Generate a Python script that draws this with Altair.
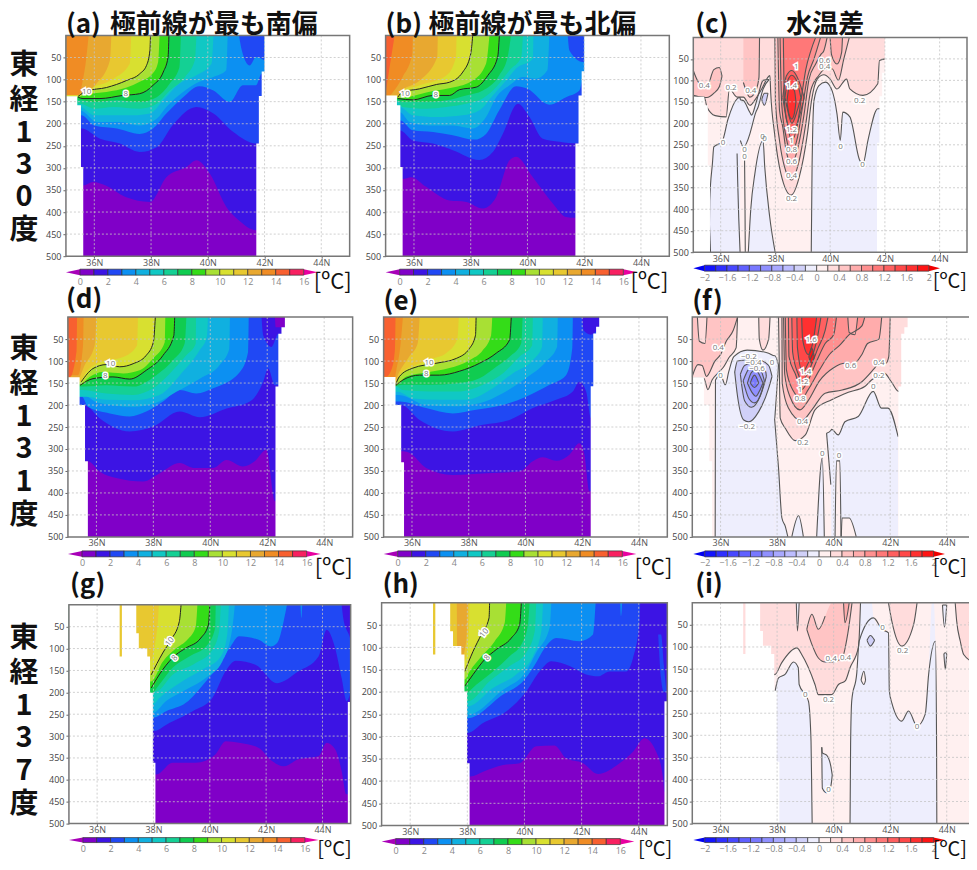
import altair as alt
import pandas as pd

# ---------- colour tables ----------
T_COLORS = ["#8000c8", "#3c14e4", "#2048f4", "#0c90f2", "#10b0e0", "#10c8c4", "#14d094", "#10cc50",
            "#34dc18", "#a8e034", "#d8e030", "#e8c830", "#e8a830", "#f08c24", "#f86030", "#f82060"]
T_LOW, T_HIGH = "#a800b8", "#e800a0"
D_EDGES = [-2.0, -1.8, -1.6, -1.4, -1.2, -1.0, -0.8, -0.6, -0.4, -0.2, 0.0, 0.2, 0.4, 0.6, 0.8, 1.0, 1.2, 1.4, 1.6, 1.8]
D_COLORS = ["#1414ff", "#3030ff", "#4848ff", "#6060ff", "#7878ff", "#9090ff", "#a8a8ff", "#bcbcff", "#d0d0f8", "#eeeefd",
            "#fff0f0", "#ffdcdc", "#ffc4c4", "#ffacac", "#ff9090", "#ff7878", "#ff6060", "#ff4848", "#ff3030", "#ff1414"]

# ---------- isotherm depths: level -> (latitude, depth) ----------
A_T = {
 1: [(35.6,340),(35.96,332),(36.4,340),(37.1,366),(37.96,377),(38.54,321),(39.25,298),(39.6,283),(40.07,313),(40.66,389),(41.1,419),(41.7,441)],
 2: [(35.55,211),(36.2,234),(36.9,245),(37.6,264),(38.2,253),(38.8,200),(39.6,162),(40.2,177),(40.9,219),(41.7,245)],
 3: [(35.55,181),(36,204),(36.8,211),(37.6,223),(38.07,211),(38.54,177),(39.13,140),(39.7,115),(40.2,125),(40.77,151),(41.24,113),(41.7,113),(41.9,87)],
 4: [(35.5,170),(36.1,196),(36.9,196),(37.6,204),(38.2,189),(38.54,162),(39.13,128),(39.7,105),(40.2,94),(40.65,79),(40.7,0)],
 5: [(35.5,162),(36,181),(36.55,181),(37.37,181),(37.96,177),(38.43,147),(39,109),(39.6,90),(40.13,64),(40.2,0)],
 6: [(35.5,155),(36,166),(36.67,162),(37.6,166),(38.2,155),(38.66,125),(39.2,94),(39.54,57),(39.6,0)],
 7: [(35.5,147),(36,151),(36.8,147),(37.6,151),(38.2,140),(38.66,109),(39,72),(39.05,0)],
 8: [(35.43,140),(35.6,143),(36.2,143),(37,136),(37.6,132),(38.07,113),(38.43,83),(38.6,49),(38.63,0)],
 9: [(35.43,139),(35.73,133),(36.43,128),(37.14,118),(37.6,105),(38.07,85),(38.25,60),(38.3,0)],
 10: [(35.43,138),(35.73,126),(36.43,118),(37.14,102),(37.6,87),(37.84,68),(37.96,34),(37.98,0)],
 11: [(35.43,136),(35.73,123),(36.67,98),(37.25,64),(37.3,0)],
 12: [(35.5,132),(36.08,109),(36.55,57),(36.6,0)],
 13: [(35.45,135),(35.6,100),(35.7,60),(35.8,0)],
}
A_PATCH = [(2, [(41.1,0,0),(41.2,0,34),(41.48,0,68),(41.7,0,49),(42,0,57)])]
A_LEFT = [(35,138),(35.4,158),(35.53,298),(35.61,500)]
A_RIGHT = [(41.71,245),(41.8,137),(41.9,82),(42,0),(45,0)]
A_LABELS = [(35.73,129,"10",0),(37.11,132,"8",0)]

B_T = {
 1: [(35.6,325),(35.9,321),(36.43,343),(37.25,374),(37.84,377),(38.43,392),(38.9,366),(39.37,283),(39.6,275),(40.19,321),(40.9,381),(41.36,411),(41.7,413)],
 2: [(35.5,215),(35.96,238),(36.67,245),(37.37,260),(38.3,282),(38.78,264),(39.13,223),(39.66,155),(40.07,185),(40.54,234),(41.13,241),(41.77,245)],
 3: [(35.5,192),(35.96,215),(36.67,219),(37.37,226),(38.13,236),(38.54,223),(39,170),(39.6,115),(40,121),(40.77,157),(41.36,140),(41.83,125),(41.95,102)],
 4: [(35.5,174),(35.85,196),(36.55,204),(37.37,204),(38.07,211),(38.54,185),(38.9,140),(39.37,113),(39.84,94),(40.3,98),(40.7,79),(40.77,0)],
 5: [(35.5,162),(35.96,181),(36.8,185),(37.72,181),(38.3,170),(38.78,136),(39.25,102),(39.6,75),(40.19,53),(40.21,0)],
 6: [(35.43,150),(35.6,162),(36.43,166),(37.14,162),(37.84,155),(38.49,140),(38.9,117),(39.37,79),(39.78,49),(39.84,0)],
 7: [(35.43,147),(35.6,151),(36.43,151),(37.14,147),(37.84,136),(38.43,125),(39,91),(39.3,49),(39.42,0)],
 8: [(35.43,143),(35.96,146),(36.67,136),(37.25,136),(37.6,123),(38.2,117),(38.6,91),(38.95,49),(39.01,0)],
 9: [(35.43,142),(35.73,140),(36.67,126),(37.37,118),(38.07,102),(38.54,64),(38.66,0)],
 10: [(35.43,140),(35.6,128),(36.2,121),(36.8,111),(37.25,106),(37.72,83),(38,42),(38.07,0)],
 11: [(35.43,138),(35.6,126),(36.2,113),(37.14,91),(37.48,49),(37.5,0)],
 12: [(35.38,136),(35.6,123),(36.2,102),(36.82,49),(36.84,0)],
 13: [(35.14,136),(35.3,125),(35.6,94),(35.94,42),(35.96,0)],
 14: [(35,132),(35.14,72),(35.32,0)],
}
B_PATCH = [(2, [(41.42,0,0),(41.48,0,34),(41.95,0,60),(42,0,60)])]
B_LEFT = [(35,136),(35.4,158),(35.52,298),(35.6,500)]
B_RIGHT = [(41.69,245),(41.8,136),(41.91,81),(42,0),(45,0)]
B_LABELS = [(35.69,132,"10",0),(36.77,134,"8",0)]

D_T = {
 1: [(35.7,328),(36.11,351),(36.7,366),(37.64,374),(38.22,355),(38.93,332),(39.4,343),(40.1,343),(40.57,325),(41.15,340),(41.56,328),(41.97,302),(42.27,419)],
 2: [(35.59,200),(36.11,230),(37.17,260),(38,249),(38.93,215),(39.63,228),(40.57,208),(41.39,192),(41.86,147),(42.03,117),(42.27,155)],
 3: [(35.5,181),(35.7,204),(36.47,219),(37.17,226),(37.75,215),(38.34,192),(38.93,166),(39.51,174),(40.1,162),(41.04,125),(41.33,79),(41.35,0)],
 4: [(35.53,177),(36.06,195),(37.29,204),(38.11,195),(38.81,170),(39.63,140),(40.33,109),(40.67,72),(40.69,0)],
 5: [(35.64,181),(36.35,188),(37.29,189),(38.22,177),(38.93,132),(39.63,75),(39.88,45),(39.92,0)],
 6: [(35.53,166),(36.35,174),(37.29,177),(37.99,162),(38.58,128),(39.16,87),(39.49,60),(39.5,0)],
 7: [(35.53,158),(36.35,155),(37.29,158),(38.1,132),(38.69,98),(39.1,60),(39.16,0)],
 8: [(35.43,155),(35.88,140),(36.58,136),(37.17,141),(37.75,121),(38.34,87),(38.72,42),(38.75,0)],
 9: [(35.43,153),(35.76,136),(36.23,125),(36.94,128),(37.52,121),(37.99,94),(38.4,57),(38.42,0)],
 10: [(35.47,147),(35.88,117),(36.35,108),(36.82,113),(37.29,106),(37.75,87),(38,57),(38.07,0)],
 11: [(35.41,147),(35.64,125),(36.11,103),(36.94,91),(37.43,64),(37.46,0)],
 12: [(35.35,140),(35.59,109),(35.94,64),(36,0)],
 13: [(35.35,132),(35.53,64),(35.55,0)],
 14: [(35.06,137),(35.3,79),(35.32,0)],
}
D_PATCH = [(1, [(41.8,0,0),(41.86,0,42),(42.15,0,68),(42.39,0,38),(42.62,0,38)]),
           (0, [(42.27,0,0),(42.3,0,23),(42.62,0,23)])]
D_LEFT = [(35,137),(35.41,200),(35.6,328),(35.7,500)]
D_RIGHT = [(42.29,158),(42.39,38),(42.5,23),(42.62,0),(45,0)]
D_LABELS = [(36.5,107,"10",0),(36.31,134,"8",0)]

E_T = {
 1: [(35.7,305),(35.92,309),(36.5,343),(37.44,359),(38.62,355),(39.79,351),(40.26,328),(40.61,319),(41.08,327),(41.55,313),(41.9,287),(42.08,313),(42.25,396)],
 2: [(35.62,200),(36.27,234),(37.44,260),(38.5,245),(39.44,234),(40.26,207),(41.08,188),(41.67,169),(41.9,147),(42.14,169),(42.31,230)],
 3: [(35.56,192),(36.5,207),(37.44,219),(38.26,211),(39.2,200),(40.02,181),(40.85,154),(41.43,132),(41.65,71),(41.67,0)],
 4: [(35.54,177),(36.5,200),(37.44,203),(38.38,196),(39.2,173),(40.02,139),(40.73,101),(41.12,67),(41.14,0)],
 5: [(35.5,170),(36.03,185),(36.97,188),(37.91,188),(38.85,162),(39.55,128),(40.26,98),(40.59,67),(40.61,0)],
 6: [(35.45,158),(35.68,166),(36.62,169),(37.68,169),(38.5,154),(39.2,128),(39.79,90),(40.24,64),(40.26,0)],
 7: [(35.42,156),(35.68,154),(36.62,154),(37.56,151),(38.38,139),(38.97,113),(39.44,90),(39.85,60),(39.9,0)],
 8: [(35.42,156),(35.68,143),(36.27,132),(36.97,132),(37.68,123),(38.38,105),(38.97,82),(39.44,52),(39.5,0)],
 9: [(35.45,154),(35.8,135),(36.5,126),(37.32,116),(38.03,98),(38.5,75),(38.79,41),(38.83,0)],
 10: [(35.42,154),(35.56,135),(36.03,116),(36.85,105),(37.56,94),(38.03,71),(38.24,41),(38.26,0)],
 11: [(35.41,150),(35.6,128),(36.1,110),(36.7,95),(37.2,82),(37.6,50),(37.65,0)],
 12: [(35.4,145),(35.55,125),(35.9,90),(36.2,60),(36.27,0)],
 13: [(35.38,140),(35.45,120),(35.6,60),(35.68,0)],
 14: [(35.1,135),(35.3,115),(35.4,72),(35.42,0)],
}
E_PATCH = [(1, [(42.0,0,0),(42.05,0,30),(42.3,0,40),(42.62,0,22)])]
E_LEFT = [(35,136),(35.42,200),(35.62,330),(35.72,500)]
E_RIGHT = [(42.3,157),(42.39,37),(42.49,22),(42.6,0),(45,0)]
E_LABELS = [(36.6,105,"10",0),(36.5,130,"8",0)]

G_T = {
 1: [(38.1,388),(38.68,361),(39.5,361),(40.2,342),(40.56,312),(41.04,315),(41.74,327),(42.21,357),(42.62,369),(43.15,353),(43.86,346),(44.15,315),(44.45,330),(44.68,380),(44.84,433)],
 2: [(37.98,289),(38.56,270),(39.39,243),(40.09,213),(40.56,152),(40.92,128),(41.62,137),(42.39,179),(43.15,152),(43.86,118),(44.15,57),(44.45,99),(44.68,167),(44.86,220),(45,200)],
 3: [(37.98,258),(38.45,243),(39.15,224),(39.86,175),(40.33,137),(40.74,95),(41.04,72),(41.74,80),(42.15,95),(42.39,87),(42.62,38),(42.74,0)],
 4: [(37.98,247),(38.45,220),(39.15,194),(39.86,167),(40.45,129),(40.8,53),(40.89,0)],
 5: [(37.98,228),(38.21,213),(38.92,179),(39.74,148),(40.39,118),(40.62,68),(40.68,0)],
 6: [(38.09,198),(38.68,160),(39.5,133),(40.09,103),(40.33,61),(40.39,0)],
 7: [(37.88,205),(38.21,182),(38.68,144),(39.27,118),(39.92,91),(40.19,53),(40.21,0)],
 8: [(37.92,190),(38.33,148),(38.8,114),(39.15,99),(39.68,76),(39.95,46),(40,0)],
 9: [(37.92,175),(38.33,130),(38.8,100),(39.2,80),(39.5,50),(39.56,0)],
 10: [(37.92,160),(38.33,110),(38.62,80),(38.92,38),(38.98,0)],
 11: [(36.5,130),(37.85,130),(38.15,46),(38.19,0)],
}
G_PATCH = [(3, [(43.22,0,0),(43.25,0,30),(43.28,0,0)]),
           (1, [(44.68,0,0),(44.75,0,35),(44.95,0,70),(45,0,80)])]
G_LEFT = [(35,0),(36.8,118),(36.88,0),(37.39,65),(37.48,99),(37.78,118),(37.88,201),(37.98,361),(38.07,500)]
G_RIGHT = [(44.9,222),(45,222)]
G_LABELS = [(38.59,85,"10",310),(38.76,122,"8",310)]

H_T = {
 1: [(38.11,390),(38.55,379),(39.25,364),(39.83,360),(40.41,322),(41.05,320),(41.46,349),(42.05,360),(42.57,384),(43.33,360),(43.8,334),(44.2,304),(44.61,334),(44.85,394),(44.9,424)],
 2: [(38.02,292),(38.55,270),(39.36,244),(40.06,199),(40.53,154),(40.94,131),(41.58,142),(42.16,161),(42.57,165),(42.98,154),(43.56,154),(43.8,124),(44.03,40),(44.05,0)],
 3: [(38.02,259),(39.25,206),(39.95,176),(40.3,146),(40.76,97),(41.11,79),(41.93,86),(42.4,71),(42.49,0)],
 4: [(38.02,251),(39.25,195),(40.06,154),(40.41,112),(40.88,56),(40.94,0)],
 5: [(38.02,232),(38.9,191),(39.71,161),(40.3,120),(40.59,64),(40.65,0)],
 6: [(38.02,221),(38.78,176),(39.48,142),(40.06,112),(40.36,64),(40.41,0)],
 7: [(37.94,202),(38.31,184),(38.9,154),(39.48,120),(39.95,86),(40.12,49),(40.18,0)],
 8: [(37.91,187),(38.2,161),(38.61,127),(39.01,105),(39.54,79),(39.83,49),(39.89,0)],
 9: [(37.91,172),(38.08,154),(38.55,116),(38.96,86),(39.31,45),(39.36,0)],
 10: [(37.91,154),(38.2,109),(38.49,71),(38.76,34),(38.78,0)],
 11: [(36.5,130),(37.9,130),(38.05,70),(38.08,0)],
 12: [(37.63,0),(37.65,200),(37.88,116),(37.98,71),(38.02,0)],
}
H_PATCH = [(2, [(44.68,71,71),(44.78,71,170),(44.88,140,200),(44.97,200,200)]),
           (3, [(43.35,0,0),(43.38,0,30),(43.42,0,0)])]
H_LEFT = [(35,0),(36.8,116),(36.88,0),(37.4,64),(37.5,97),(37.79,116),(37.9,199),(37.99,360),(38.08,500)]
H_RIGHT = [(44.9,221),(45,221)]
H_LABELS = [(38.6,68,"10",310),(38.7,124,"8",310)]

# ---------- temperature difference fields: (lower edge, [(lat, top, bottom)]) ----------
C_PATCH = [
 (-0.2, [(35.58,500,500),(35.6,380,500),(35.7,293,500),(35.75,255,500),(36.05,243,500),(36.27,190,500),(36.6,143,500),(36.71,140,500),(36.72,145,240),(36.83,147,255),(37.07,175,224),(37.13,181,210),(37.28,155,175),(37.37,135,162),(37.55,100,120),(37.77,98,98)]),
 (-0.2, [(37.01,500,500),(37.1,400,500),(37.25,317,500),(37.55,240,500),(37.61,301,500),(37.79,417,500),(37.99,500,500)]),
 (-0.2, [(39.31,500,500),(39.34,300,500),(39.41,147,500),(39.59,112,500),(39.83,104,500),(40.07,124,500),(40.25,178,500),(40.37,240,500),(40.46,174,500),(40.72,185,500),(41.08,286,500),(41.2,294,500),(41.38,240,500),(41.74,166,500),(42,166,500)]),
 (0.2, [(35,0,139),(35.4,0,139),(35.5,0,162),(35.8,0,182),(36.2,0,185),(36.32,0,120),(36.6,0,139),(36.83,0,139),(37.07,0,158),(37.28,0,143),(37.5,0,120),(37.8,0,89),(37.83,0,130),(37.97,0,224),(38.2,0,317),(38.57,0,367),(38.87,0,325),(39.17,0,224),(39.32,0,147),(39.53,0,97),(39.77,0,87),(40,0,97),(40.25,0,120),(40.6,0,97),(40.72,0,120),(41.2,0,135),(41.74,0,108),(41.8,0,54),(42,0,50)]),
 (0.4, [(35,77,135),(35.2,105,138),(35.5,115,140),(35.75,75,130),(35.95,70,115),(36.05,90,90)]),
 (0.4, [(36.83,0,105),(37.07,0,139),(37.28,0,124),(37.4,0,93),(37.42,0,0)]),
 (0.4, [(37.98,0,0),(38,0,147),(38.15,0,240),(38.33,0,301),(38.59,0,332),(38.87,0,286),(39.11,0,201),(39.29,0,124),(39.59,0,88),(39.83,0,73),(40.07,0,73),(40.3,0,100),(40.5,0,50),(40.7,0,0)]),
 (0.6, [(38.09,0,0),(38.15,0,170),(38.27,0,209),(38.39,0,263),(38.59,0,294),(38.83,0,255),(39.05,0,178),(39.23,0,97),(39.47,0,62),(39.67,0,39),(39.77,0,31),(39.89,0,0)]),
 (0.6, [(40,0,0),(40.05,0,40),(40.25,0,62),(40.42,0,35),(40.45,0,0)]),
 (0.8, [(38.17,0,0),(38.23,0,155),(38.39,0,232),(38.59,0,267),(38.81,0,232),(38.99,0,162),(39.17,0,93),(39.41,0,50),(39.65,0,0)]),
 (1.0, [(38.29,0,0),(38.33,0,150),(38.45,0,205),(38.59,0,240),(38.8,0,205),(38.95,0,140),(39.11,0,75),(39.3,0,30),(39.47,0,0)]),
 (1.2, [(38.27,140,140),(38.4,90,190),(38.6,77,224),(38.85,100,190),(39.05,140,140)]),
 (1.4, [(38.35,140,140),(38.45,100,170),(38.6,88,200),(38.8,105,170),(38.93,140,140)]),
 (1.6, [(38.42,150,150),(38.5,118,180),(38.6,116,190),(38.7,125,175),(38.75,150,150)]),
 (-0.4, [(37.5,145,145),(37.6,130,158),(37.73,130,130)]),
]
C_LINES = [[(36.6,270),(36.62,330),(36.66,420),(36.71,500)], [(36.87,260),(36.89,400),(36.9,500)], [(35.58,420),(35.63,500)]]
C_LEFT = A_LEFT
C_RIGHT = A_RIGHT
C_LABELS = [(35.4,113,"0.4",0),(36.38,117,"0.2",0),(37.1,124,"0.4",0),(38.76,70,"1",0),(38.59,114,"1.4",0),(38.59,216,"1.2",0),(38.59,240,"1",0),(38.59,263,"0.8",0),(38.59,290,"0.6",0),(38.59,322,"0.4",0),(38.59,377,"0.2",0),(39.8,54,"0.6",0),(39.8,70,"0.4",0),(41.08,147,"0.2",0),(36.09,245,"0",0),(36.87,263,"0",0),(36.87,278,"0",0),(37.53,232,"0",0),(37.6,236,"0",0),(40.38,255,"0",0),(41.18,296,"0",0)]

F_PATCH = [
 (-0.2, [(35.81,500,500),(35.82,143,500),(36,132,500),(36.17,154,500),(36.29,124,500),(36.47,90,500),(36.94,75,500),(37.7,82,500),(37.91,88,500),(37.92,88,230),(38.05,109,109)]),
 (-0.2, [(37.91,230,500),(38.05,343,500),(38.17,457,500),(38.29,476,500),(38.38,500,500)]),
 (-0.2, [(39.75,264,264),(39.9,258,381),(39.93,255,500),(40.16,268,500),(40.4,238,500),(40.87,226,500),(41.4,169,500),(41.69,207,500),(41.92,207,500),(42.28,272,500)]),
 (0.0, [(40.05,500,500),(40.1,327,500),(40.22,327,500),(40.26,500,500)]),
 (0.0, [(40.27,500,500),(40.3,457,500),(40.55,457,500),(40.8,500,500)]),
 (-0.2, [(39.4,500,500),(39.6,320,500),(39.67,500,500)]),
 (-0.2, [(38.52,500,500),(38.76,452,500),(38.93,500,500)]),
 (0.2, [(35,0,139),(35.41,0,139),(35.55,0,165),(35.7,0,143),(35.9,0,128),(36.1,0,114),(36.3,0,92),(36.55,0,70),(36.6,0,0)]),
 (0.2, [(37.35,0,0),(37.37,0,50),(37.5,0,75),(37.7,0,50),(37.75,0,0)]),
 (0.4, [(35,0,135),(35.2,0,108),(35.35,0,110),(35.5,0,135),(35.8,0,100),(36,0,85),(36.2,0,55),(36.45,0,30),(36.6,0,0)]),
 (0.2, [(35.18,0,0),(35.25,0,55),(35.45,0,60),(35.52,0,0)]),
 (0.2, [(38.05,0,0),(38.08,0,120),(38.11,0,230),(38.29,0,253),(38.64,0,281),(39,0,268),(39.34,0,211),(39.93,0,188),(40.52,0,171),(41.1,0,158),(41.34,0,143),(41.6,0,133),(41.8,0,128),(42.04,0,147),(42.3,0,169),(42.62,0,169)]),
 (0.4, [(38.17,0,0),(38.18,0,150),(38.4,0,207),(38.87,0,236),(39.23,0,211),(39.7,0,173),(40.3,0,166),(41,0,147),(41.45,0,116),(41.69,0,98),(41.85,0,105),(41.95,0,90),(42,0,0)]),
 (0.6, [(38.23,0,0),(38.27,0,130),(38.45,0,180),(38.81,0,211),(39.1,0,190),(39.5,0,145),(40,0,115),(40.4,0,105),(40.6,0,110),(41,0,85),(41.2,0,60),(41.6,0,50),(41.7,0,0)]),
 (0.8, [(38.29,0,0),(38.33,0,120),(38.55,0,165),(38.87,0,185),(39.1,0,165),(39.5,0,120),(39.85,0,85),(40.2,0,65),(40.55,0,40),(41,0,20),(41.1,0,0)]),
 (0.6, [(40.5,0,0),(40.55,0,35),(40.75,0,40),(40.85,0,0)]),
 (1.0, [(38.4,0,0),(38.42,0,90),(38.65,0,130),(38.87,0,165),(39.05,0,150),(39.4,0,100),(39.7,0,60),(40,0,40),(40.1,0,0)]),
 (1.2, [(38.52,0,0),(38.55,0,80),(38.75,0,130),(38.87,0,147),(39.1,0,125),(39.45,0,70),(39.7,0,30),(39.8,0,0)]),
 (1.4, [(38.7,0,0),(38.72,0,70),(38.9,0,125),(39.1,0,105),(39.4,0,55),(39.55,0,0)]),
 (1.6, [(38.87,0,0),(38.9,0,50),(39.1,0,85),(39.3,0,45),(39.4,0,0)]),
 (1.8, [(39.12,90,90),(39.22,70,105),(39.32,90,90)]),
 (-0.4, [(36.5,125,125),(36.6,100,180),(36.82,98,234),(37,98,238),(37.35,98,215),(37.7,110,162),(37.82,135,135)]),
 (-0.6, [(36.7,130,130),(36.85,110,190),(37.1,105,205),(37.4,110,180),(37.6,125,140),(37.62,135,135)]),
 (-0.8, [(36.8,145,145),(37,118,185),(37.2,112,195),(37.45,125,170),(37.55,145,145)]),
 (-1.0, [(36.95,150,150),(37.1,125,170),(37.25,120,180),(37.4,135,165),(37.5,150,150)]),
 (-1.2, [(37.05,150,150),(37.2,132,160),(37.35,150,150)]),
]
F_LINES = []
F_LEFT = D_LEFT
F_RIGHT = D_RIGHT
F_LABELS = [(35.92,71,"0.4",0),(36,133,"0",0),(36.94,249,"−0.2",0),(37,90,"−0.2",0),(37.17,104,"−0.4",0),(37.29,118,"−0.6",0),(37.82,105,"0",0),(39.21,52,"1.6",0),(39.01,125,"1.4",0),(38.91,147,"1.2",0),(38.81,166,"1",0),(38.81,187,"0.8",0),(38.9,238,"0.4",0),(38.91,287,"0.2",0),(40.6,111,"0.6",0),(41.6,105,"0.4",0),(41.6,133,"0.2",0),(41.4,160,"0",0),(39.6,311,"0",0),(40.19,317,"0",0)]

I_PATCH = [
 (-0.2, [(37.93,200,500),(38.05,170,500),(38.28,162,500),(38.58,134,500),(38.75,147,500),(38.78,185,500),(38.99,208,500),(39.11,223,500),(39.2,313,500),(39.23,450,500),(39.24,500,500)]),
 (-0.2, [(40.58,500,500),(40.6,320,500),(40.64,222,500),(40.82,158,500),(40.9,87,500),(40.97,0,500),(41.35,0,500),(41.41,34,500),(41.71,60,500),(41.94,68,500),(41.97,200,500),(42.06,227,500),(42.41,268,500),(42.65,245,500),(42.95,279,500),(43.24,252,500),(43.36,162,500),(43.48,0,500),(43.54,0,500),(43.6,87,500),(43.64,313,500),(43.65,500,500)]),
 (0.2, [(36.5,0,170),(37.93,0,162),(38.16,0,136),(38.7,0,102),(38.87,0,117),(39.34,0,185),(39.46,0,208),(39.93,0,208),(40.17,0,185),(40.41,0,177),(40.58,0,147),(40.88,0,100),(40.95,0,0)]),
 (0.2, [(41.94,0,0),(42.06,0,42),(42.41,0,98),(42.83,0,49),(42.95,0,0)]),
 (0.2, [(44.3,0,0),(44.35,0,40),(44.48,0,87),(44.6,0,117),(45,0,136)]),
 (0.4, [(39.05,60,60),(39.23,26,94),(39.46,60,125),(39.7,30,134),(39.95,0,134),(40.3,0,125),(40.5,0,70),(40.65,0,0)]),
 (0.6, [(40.35,0,0),(40.4,0,45),(40.55,0,0)]),
 (-0.4, [(41.18,85,85),(41.3,74,98),(41.45,85,85)]),
 (0.0, [(40.97,175,175),(41.07,155,185),(41.13,175,175)]),
 (-0.2, [(38.68,0,0),(38.72,0,64),(38.78,0,0)]),
 (-0.2, [(43.85,5,5),(43.92,5,55),(44,5,5)]),
 (-0.2, [(43.9,115,115),(43.95,113,150),(44,115,115)]),
 (-0.2, [(44.8,45,45),(44.86,35,55),(44.92,45,45)]),
 (-0.2, [(39.58,327,327),(39.6,340,420),(39.75,345,430),(39.9,370,415),(39.95,390,390)]),
]
I_LINES = []
I_LEFT = H_LEFT
I_RIGHT = H_RIGHT
I_LABELS = [(39.91,127,"0.4",0),(40.42,125,"0.4",0),(39.82,221,"0.2",0),(39,208,"0",0),(39.82,425,"0",0),(41.73,58,"0",0),(42.44,108,"0.2",0),(42.95,281,"0",0)]

# ---------- text ----------
LAT_TICKS = [36, 38, 40, 42, 44]
DEPTH_TICKS = [50, 100, 150, 200, 250, 300, 350, 400, 450, 500]
T_TICKS = [0, 2, 4, 6, 8, 10, 12, 14, 16]
D_TICKS = [-2, -1.6, -1.2, -0.8, -0.4, 0, 0.4, 0.8, 1.2, 1.6, 2]
ROW_TEXT = [["東","経","1","3","0","度"], ["東","経","1","3","1","度"], ["東","経","1","3","7","度"]]
ROW_Y = [[65,100,133,165,197,230], [349,384,417,449,482,515], [638,673,706,738,771,804]]
UNIT = "[ºC]"
CJK = "Noto Sans CJK JP"

# cell origins on the page
COL_X = [8, 360, 670]
COL_W = [352, 310, 299]
ROW_O = [8, 258, 292, 540, 577, 830]
ROW_H = [250, 34, 248, 37, 253, 32]


def text_layers(rows, size, bold=True, color="#111", align="left"):
    out = []
    for px, py, t in rows:
        out.append(alt.Chart(pd.DataFrame({"t": [t]})).mark_text(
            font=CJK, fontSize=size, fontWeight="bold" if bold else "normal",
            color=color, align=align, baseline="middle").encode(
            x=alt.value(px), y=alt.value(py), text="t:N"))
    return out


def panel(col, row, box, kind, levels, patches, left, right, labels, titles, extra_lines=()):
    x0, x1, y0, y1 = box
    ox, oy, W, H = COL_X[col], ROW_O[row], COL_W[col], ROW_H[row]
    sx = alt.Scale(domain=[35, 45], range=[x0 - ox, x1 - ox], nice=False, zero=False)
    sy = alt.Scale(domain=[0, 500], range=[y0 - oy, y1 - oy], nice=False, zero=False)
    ax = alt.Axis(values=LAT_TICKS, labelExpr="datum.value + 'N'", title=None, domain=False, grid=False,
                  tickSize=2, tickColor="#666", labelFontSize=9, labelColor="#555", labelPadding=0,
                  labelFont="Open Sans", offset=-(H - (y1 - oy)))
    ay = alt.Axis(values=DEPTH_TICKS, title=None, domain=False, grid=False, tickSize=3, tickColor="#666",
                  labelFontSize=9, labelColor="#444", labelFont="Open Sans", labelPadding=2, offset=-(x0 - ox))
    xn = alt.X("lat:Q", scale=sx, axis=ax)
    yn = alt.Y("top:Q", scale=sy, axis=ay)
    bands, lines, sid = [], [], 0

    def add(color, pts):
        nonlocal sid
        for la, to, bo in pts:
            bands.append((sid, color, la, to, bo))
        sid += 1

    if kind == "T":
        add(T_COLORS[0], [(35, 0, 500), (45, 0, 500)])
        for lvl in sorted(levels):
            pts = list(levels[lvl])
            full = [(35, 0, pts[0][1])] if pts[0][0] > 35 else []
            full += [(a, 0, b) for a, b in pts]
            if pts[-1][1] > 0 and pts[-1][0] < 45:
                full.append((45, 0, pts[-1][1]))
            add(T_COLORS[lvl], full)
            if lvl in (8, 10):
                lines.append(list(pts))
        for lvl, pts in patches:
            add(T_COLORS[lvl], pts)
    else:
        add(D_COLORS[D_EDGES.index(0.0)], [(35, 0, 500), (45, 0, 500)])
        for edge, pts in patches:
            add(D_COLORS[D_EDGES.index(edge)], pts)
            bottom = [(a, c) for a, b, c in pts if c < 500]
            top = [(a, b) for a, b, c in pts if b > 0]
            if len(bottom) > 1:
                lines.append(bottom)
            if len(top) > 1:
                lines.append(top)
        lines += [list(l) for l in extra_lines]

    band_df = pd.DataFrame(bands, columns=["sid", "col", "lat", "top", "bot"])
    layers = [alt.Chart(band_df).mark_area(interpolate="monotone").encode(
        x=xn, y=yn, y2="bot:Q", color=alt.Color("col:N", scale=None), detail="sid:N")]

    rows = [(i, j, a, b) for i, l in enumerate(lines) for j, (a, b) in enumerate(l)]
    line_df = pd.DataFrame(rows, columns=["sid", "ord", "lat", "top"])
    layers.append(alt.Chart(line_df).mark_line(
        interpolate="monotone",
        color="#222" if kind == "T" else "#555", strokeWidth=1 if kind == "T" else 1.1).encode(
        x=xn, y=yn, detail="sid:N", order="ord:Q"))

    mask = [("L", a, b, 500) for a, b in left] + [("R", a, b, 500) for a, b in right]
    mask_df = pd.DataFrame(mask, columns=["sid", "lat", "top", "bot"])
    layers.append(alt.Chart(mask_df).mark_area(interpolate="step-after", color="white").encode(
        x=xn, y=yn, y2="bot:Q", detail="sid:N"))

    layers.append(alt.Chart(pd.DataFrame({"lat": LAT_TICKS, "top": 0, "bot": 500})).mark_rule(
        color="#c4c4c4", strokeDash=[2, 2], strokeWidth=1, opacity=0.8).encode(
        x=xn, y=yn, y2="bot:Q"))
    layers.append(alt.Chart(pd.DataFrame({"top": DEPTH_TICKS[:-1], "lat": 35, "b": 45})).mark_rule(
        color="#c4c4c4", strokeDash=[2, 2], strokeWidth=1, opacity=0.8).encode(
        y=yn, x=xn, x2="b:Q"))

    lab_df = pd.DataFrame(labels, columns=["lat", "top", "t", "ang"])
    for halo in (True, False):
        layers.append(alt.Chart(lab_df).mark_text(
            fontSize=8, font="Open Sans", color="white" if halo else "#777",
            stroke="white" if halo else None, strokeWidth=3 if halo else 0).encode(
            x=xn, y=yn, text="t:N", angle=alt.Angle("ang:Q", scale=None)))

    frame = pd.DataFrame({"lat": [35], "b": [45], "top": [0], "bot": [500]})
    layers.append(alt.Chart(frame).mark_rect(fillOpacity=0, stroke="#777", strokeWidth=1.5).encode(
        x=xn, x2="b:Q", y=yn, y2="bot:Q"))

    layers += text_layers([(tx - ox, ty - oy, t) for tx, ty, t in titles], 26)
    return alt.layer(*layers).properties(width=W, height=H)


def colorbar(col, row, box, kind, unit_x, unit_y, unit_size=22):
    x0, x1, y0, y1 = box
    ox, oy, W, H = COL_X[col], ROW_O[row], COL_W[col], ROW_H[row]
    if kind == "T":
        dom = [-1, 17]
        cells = [(i, i + 1, c) for i, c in enumerate(T_COLORS)]
        low, high, ticks, (edge0, edge1) = T_LOW, T_HIGH, T_TICKS, (0, 16)
    else:
        dom = [-2.2, 2.2]
        cells = [(e, round(e + 0.2, 1), c) for e, c in zip(D_EDGES, D_COLORS)]
        low, high, ticks, (edge0, edge1) = "#0000f0", "#f00000", D_TICKS, (-2, 2)
    sx = alt.Scale(domain=dom, range=[x0 - ox, x1 - ox], nice=False, zero=False)
    sy = alt.Scale(domain=[0, 1], range=[y0 - oy, y1 - oy], nice=False, zero=False)
    ax = alt.Axis(values=ticks, title=None, domain=False, ticks=False, grid=False, labelFontSize=9,
                  labelColor="#888", labelPadding=2, format="~g", labelFont="Open Sans", labelOverlap=False,
                  offset=-(H - (y1 - oy)))
    ay = alt.Axis(values=[], title=None, domain=False, ticks=False, labels=False, grid=False)
    xv = alt.X("v:Q", scale=sx, axis=ax)
    ya = alt.Y("a:Q", scale=sy, axis=ay)
    df = pd.DataFrame(cells, columns=["v", "v2", "col"]).assign(a=0, b=1)
    bar = alt.Chart(df).mark_rect(stroke="#333", strokeWidth=0.7).encode(
        x=xv, x2="v2:Q", y=ya, y2="b:Q", color=alt.Color("col:N", scale=None))
    tri = pd.DataFrame([("l", low, dom[0], 0.5, 0.5), ("l", low, edge0, 0, 1),
                        ("h", high, edge1, 0, 1), ("h", high, dom[1], 0.5, 0.5)],
                       columns=["sid", "col", "v", "a", "b"])
    tips = alt.Chart(tri).mark_area().encode(
        x=xv, y=ya, y2="b:Q", color=alt.Color("col:N", scale=None), detail="sid:N")
    unit = text_layers([(unit_x - ox, unit_y - oy, UNIT)], unit_size, bold=False, align="right")
    return alt.layer(tips, bar, *unit).properties(width=W, height=H)


def side_labels(r, row, chart):
    ox, oy = COL_X[0], ROW_O[row]
    lay = text_layers([(24 - ox, y - oy, t) for y, t in zip(ROW_Y[r], ROW_TEXT[r])], 29, align="center")
    return alt.layer(chart, *lay)


a = panel(0, 0, (66, 350, 35, 256), "T", A_T, A_PATCH, A_LEFT, A_RIGHT, A_LABELS, [(66, 25, "(a)"), (110, 25, "極前線が最も南偏")])
b = panel(1, 0, (386, 670, 35, 256), "T", B_T, B_PATCH, B_LEFT, B_RIGHT, B_LABELS, [(386, 25, "(b)"), (429, 25, "極前線が最も北偏")])
c = panel(2, 0, (694, 968, 37, 252), "D", None, C_PATCH, C_LEFT, C_RIGHT, C_LABELS, [(696, 25, "(c)"), (787, 25, "水温差")], C_LINES)
d = panel(0, 2, (68, 353, 317, 537), "T", D_T, D_PATCH, D_LEFT, D_RIGHT, D_LABELS, [(66, 300, "(d)")])
e = panel(1, 2, (384, 668, 317, 537), "T", E_T, E_PATCH, E_LEFT, E_RIGHT, E_LABELS, [(384, 302, "(e)")])
f = panel(2, 2, (693, 976, 317, 537), "D", None, F_PATCH, F_LEFT, F_RIGHT, F_LABELS, [(693, 302, "(f)")], F_LINES)
g = panel(0, 4, (69, 351, 605, 824), "T", G_T, G_PATCH, G_LEFT, G_RIGHT, G_LABELS, [(70, 585, "(g)")])
h = panel(1, 4, (382, 668, 603, 826), "T", H_T, H_PATCH, H_LEFT, H_RIGHT, H_LABELS, [(383, 585, "(h)")])
i = panel(2, 4, (693, 976, 603, 824), "D", None, I_PATCH, I_LEFT, I_RIGHT, I_LABELS, [(696, 585, "(i)")], I_LINES)

cells = [
    side_labels(0, 0, a), b, c,
    colorbar(0, 1, (66, 318, 269, 275), "T", 352, 282), colorbar(1, 1, (386, 638, 269, 275), "T", 669, 282), colorbar(2, 1, (694, 941, 265, 271), "D", 968, 282, 20),
    side_labels(1, 2, d), e, f,
    colorbar(0, 3, (68, 321, 551, 557), "T", 353, 568), colorbar(1, 3, (384, 637, 551, 557), "T", 673, 568), colorbar(2, 3, (694, 946, 551, 557), "D", 968, 568, 20),
    side_labels(2, 4, g), h, i,
    colorbar(0, 5, (69, 319, 838, 843), "T", 352, 850, 20), colorbar(1, 5, (382, 635, 839, 845), "T", 673, 850, 20), colorbar(2, 5, (694, 946, 838, 843), "D", 968, 850, 20),
]

chart = alt.concat(*cells, columns=3, spacing=0, bounds="flush", align="each").properties(
    padding={"left": 0, "right": -9, "top": 0, "bottom": 0}).configure_view(stroke=None)
chart.save("out.html", embed_options={"renderer": "svg", "actions": False})
